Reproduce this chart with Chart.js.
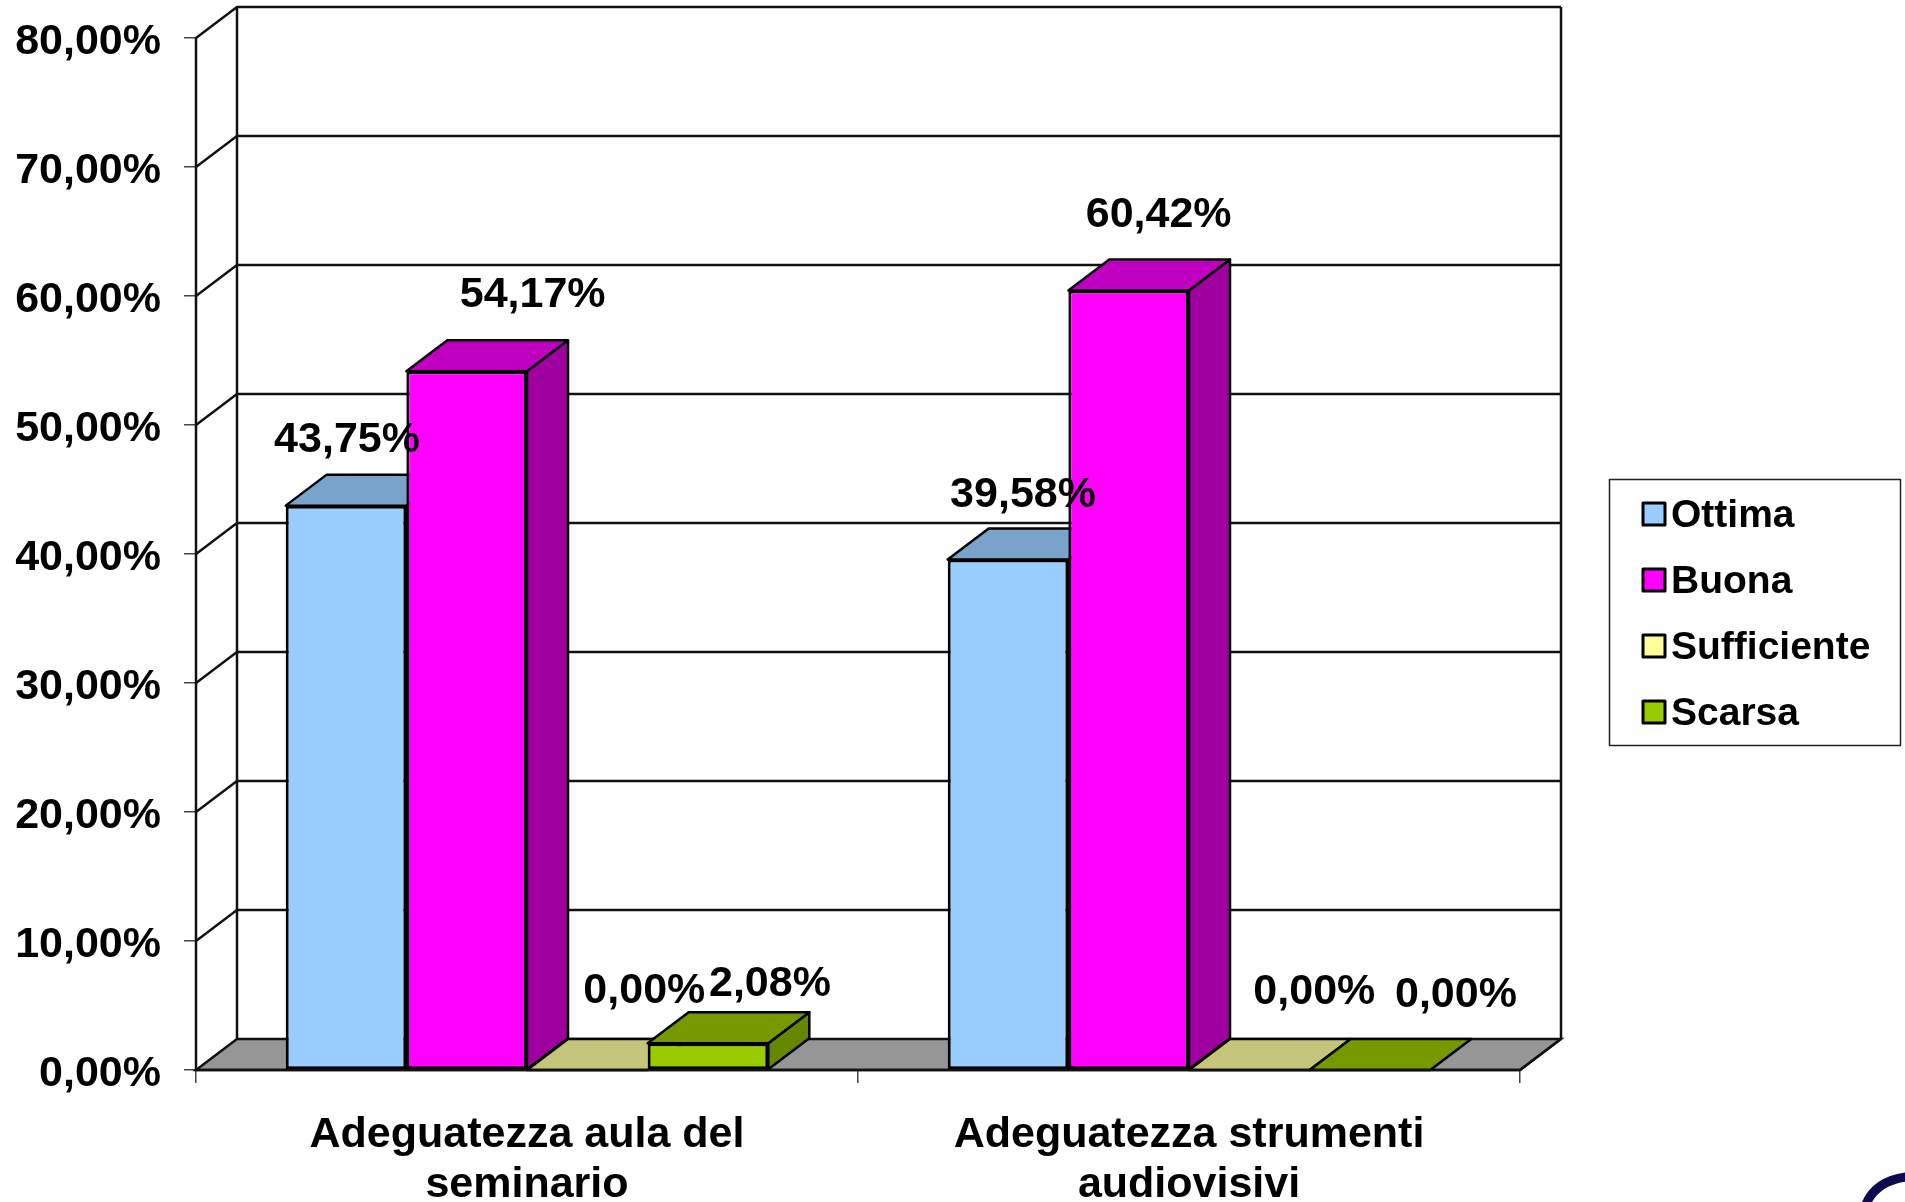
<!DOCTYPE html>
<html>
<head>
<meta charset="utf-8">
<title>Adeguatezza</title>
<script src="https://cdn.jsdelivr.net/npm/chart.js@4/dist/chart.umd.min.js"></script>
<style>
  html, body { margin: 0; padding: 0; background: #fff; }
  canvas { display: block; }
</style>
</head>
<body>
<canvas id="myChart" width="1905" height="1202"></canvas>
<script>
const labels = [
    ['Adeguatezza aula del', 'seminario'],
    ['Adeguatezza strumenti', 'audiovisivi']
];
const seriesNames = ['Ottima', 'Buona', 'Sufficiente', 'Scarsa'];
const ottima = [43.75, 39.58];
const buona = [54.17, 60.42];
const sufficiente = [0, 0];
const scarsa = [2.08, 0];
const yMax = 80;
const yStep = 10;

// front, top and side colours per series
const frontColors = ['#99ccff', '#ff00ff', '#ffff99', '#99cc00'];
const topColors = ['#7aa3cc', '#c000c0', '#c4c47a', '#779900'];
const sideColors = ['#6b8fb3', '#a000a0', '#a8a868', '#668800'];

// depth of the fake 3d box
const depthX = 41;
const depthY = 31;

// the value labels are hand placed in the original, offset from the top centre of the bar
const labelOffsets = [
    [[1, -65], [15, -64]],
    [[66, -76], [30, -75]],
    [[57, -79], [65, -78]],
    [[62, -59], [86, -75]]
];

const FONT = 'bold 43px "Liberation Sans"';
const LEGEND_FONT = 'bold 39px "Liberation Sans"';

const fmt = v => v.toFixed(2).replace('.', ',') + '%';

const box3d = {
    id: 'box3d',
    beforeDatasetsDraw(chart) {
        const { ctx, chartArea: a, scales: { y } } = chart;
        ctx.save();
        // floor
        ctx.beginPath();
        ctx.moveTo(a.left, a.bottom);
        ctx.lineTo(a.left + depthX, a.bottom - depthY);
        ctx.lineTo(a.right + depthX, a.bottom - depthY);
        ctx.lineTo(a.right, a.bottom);
        ctx.closePath();
        ctx.fillStyle = '#969696';
        ctx.fill();
        ctx.strokeStyle = '#111';
        ctx.lineWidth = 2.4;
        ctx.stroke();
        // grid lines run along the left wall then the back wall
        for (let v = yStep; v <= yMax; v += yStep) {
            const py = y.getPixelForValue(v);
            ctx.beginPath();
            ctx.moveTo(a.left, py);
            ctx.lineTo(a.left + depthX, py - depthY);
            ctx.lineTo(a.right + depthX, py - depthY);
            ctx.stroke();
        }
        ctx.lineWidth = 2.5;
        ctx.beginPath();
        ctx.moveTo(a.left, a.bottom);
        ctx.lineTo(a.left, a.top);
        ctx.moveTo(a.left + depthX, a.bottom - depthY);
        ctx.lineTo(a.left + depthX, a.top - depthY);
        ctx.moveTo(a.right + depthX, a.bottom - depthY);
        ctx.lineTo(a.right + depthX, a.top - depthY);
        ctx.stroke();
        ctx.restore();
    },
    // the library paints the last series first, here each has to overlap the one before
    beforeDatasetDraw() {
        return false;
    },
    afterDatasetsDraw(chart) {
        const { ctx, chartArea: a } = chart;
        ctx.save();
        chart.data.datasets.forEach((ds, i) => {
            const meta = chart.getDatasetMeta(i);
            ctx.strokeStyle = '#000';
            ctx.lineWidth = 2.5;
            ctx.lineJoin = 'round';
            meta.data.forEach(bar => {
                const l = bar.x - bar.width / 2;
                const r = bar.x + bar.width / 2;
                const t = bar.y;
                const b = bar.base;
                if (b > t) {
                    ctx.beginPath();
                    ctx.moveTo(r, t);
                    ctx.lineTo(r + depthX, t - depthY);
                    ctx.lineTo(r + depthX, b - depthY);
                    ctx.lineTo(r, b);
                    ctx.closePath();
                    ctx.fillStyle = sideColors[i];
                    ctx.fill();
                    ctx.stroke();
                }
                ctx.beginPath();
                ctx.moveTo(l, t);
                ctx.lineTo(l + depthX, t - depthY);
                ctx.lineTo(r + depthX, t - depthY);
                ctx.lineTo(r, t);
                ctx.closePath();
                ctx.fillStyle = topColors[i];
                ctx.fill();
                ctx.stroke();
            });
            meta.controller.draw();
        });

        // front edge of the floor
        ctx.strokeStyle = '#111';
        ctx.lineWidth = 2.5;
        ctx.beginPath();
        ctx.moveTo(a.left, a.bottom);
        ctx.lineTo(a.right, a.bottom);
        ctx.lineTo(a.right + depthX, a.bottom - depthY);
        ctx.stroke();

        // value labels
        ctx.font = FONT;
        ctx.fillStyle = '#000';
        ctx.textAlign = 'center';
        ctx.textBaseline = 'middle';
        chart.data.datasets.forEach((ds, i) => {
            chart.getDatasetMeta(i).data.forEach((bar, j) => {
                const off = labelOffsets[i][j];
                ctx.fillText(fmt(ds.data[j]), bar.x + off[0], bar.y + off[1]);
            });
        });

        // legend
        ctx.strokeStyle = '#222';
        ctx.lineWidth = 1.5;
        ctx.strokeRect(1609.5, 479.5, 291, 266);
        ctx.textAlign = 'left';
        ctx.font = LEGEND_FONT;
        chart.data.datasets.forEach((ds, i) => {
            const cy = 514 + i * 66;
            ctx.fillStyle = ds.backgroundColor;
            ctx.fillRect(1643, cy - 11, 22, 22);
            ctx.strokeStyle = '#000';
            ctx.lineWidth = 3;
            ctx.strokeRect(1643, cy - 11, 22, 22);
            ctx.fillStyle = '#000';
            ctx.fillText(ds.label, 1671, cy + 2);
        });

        // corner of the logo that the crop left in
        ctx.strokeStyle = '#0b0b4f';
        ctx.lineWidth = 9;
        ctx.beginPath();
        ctx.moveTo(1866, 1204);
        ctx.quadraticCurveTo(1876, 1181, 1906, 1177);
        ctx.stroke();
        ctx.restore();
    }
};

const seriesValues = [ottima, buona, sufficiente, scarsa];

const data = {
    labels: labels,
    datasets: seriesNames.map((name, i) => ({
        label: name,
        data: seriesValues[i],
        backgroundColor: frontColors[i],
        borderColor: '#000',
        borderWidth: 3,
        borderSkipped: false
    }))
};

const config = {
    type: 'bar',
    data: data,
    plugins: [box3d],
    options: {
        responsive: false,
        animation: false,
        layout: { padding: { left: 0, top: 38, right: 385, bottom: 0 } },
        datasets: { bar: { categoryPercentage: 0.729, barPercentage: 1 } },
        plugins: {
            legend: { display: false },
            title: { display: false },
            tooltip: { enabled: false }
        },
        scales: {
            x: {
                grid: { drawOnChartArea: false, drawTicks: true, tickLength: 13, color: '#444', lineWidth: 1.5 },
                border: { display: false },
                ticks: {
                    color: '#000',
                    maxRotation: 0,
                    autoSkip: false,
                    padding: 27,
                    font: { family: '"Liberation Sans"', size: 43, weight: 'bold', lineHeight: 1.16 }
                },
                afterFit(scale) { scale.height = 132; }
            },
            y: {
                min: 0,
                max: yMax,
                grid: { drawOnChartArea: false, drawTicks: true, tickLength: 12, color: '#444', lineWidth: 1.5 },
                border: { display: false },
                ticks: {
                    stepSize: yStep,
                    color: '#000',
                    padding: 23,
                    font: { family: '"Liberation Sans"', size: 43, weight: 'bold' },
                    callback: v => fmt(v)
                },
                afterFit(scale) {
                    scale.width = 196;
                    scale.paddingTop = 0;
                    scale.paddingBottom = 0;
                    // tick labels sit a little below their ticks in the original
                    if (!scale.shiftedLabels) {
                        const drawLabels = scale.drawLabels;
                        scale.drawLabels = function (chartArea) {
                            this.ctx.save();
                            this.ctx.translate(0, 4.5);
                            drawLabels.call(this, chartArea);
                            this.ctx.restore();
                        };
                        scale.shiftedLabels = true;
                    }
                }
            }
        }
    }
};

const myChart = new Chart(document.getElementById('myChart'), config);
</script>
</body>
</html>
